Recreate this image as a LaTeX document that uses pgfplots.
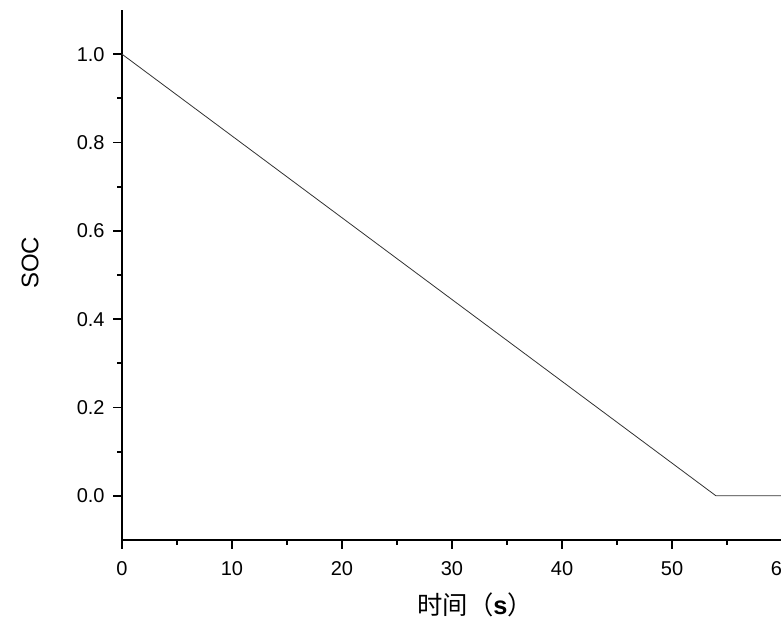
\documentclass[border=0pt]{standalone}
\usepackage{fontspec}
\setmainfont{Liberation Sans}
\newfontfamily\cjk{Noto Sans CJK SC}
\usepackage{pgfplots}
\pgfplotsset{compat=1.18}

\begin{document}
\begin{tikzpicture}
\begin{axis}[
  name=ax,
  scale only axis,
  width=495pt, height=397.5pt,
  xmin=0, xmax=60,
  ymin=-0.1, ymax=1.1,
  axis lines*=left,
  axis line style={line width=1.6pt},
  xtick={0,10,...,60},
  ytick={0,0.2,...,1.0},
  minor x tick num=1,
  minor y tick num=1,
  tick align=outside,
  major tick length=6.5pt,
  minor tick length=3.5pt,
  every tick/.style={black, line width=1.3pt},
  tick label style={font=\fontsize{15}{17}\selectfont},
  /pgf/number format/assume math mode=true,
  yticklabel style={/pgf/number format/fixed, /pgf/number format/fixed zerofill,
                    /pgf/number format/precision=1, xshift=-3pt},
  xticklabel style={/pgf/number format/fixed, yshift=-6pt},
  xlabel={{\cjk 时间（}\textbf{s}{\cjk ）}},
  xlabel style={at={(axis description cs:0.535,0)}, anchor=center,
                yshift=-48.75pt, font=\fontsize{19}{21}\selectfont},
  ylabel={SOC},
  ylabel style={at={([xshift=-69pt]axis description cs:0,0.523)}, anchor=center,
                font=\fontsize{18}{20}\selectfont},
  clip=false,
]
\addplot[black!80, line width=0.6pt] coordinates {(0,1.0) (54,0.0) (60,0.0)};
\end{axis}
\pgfresetboundingbox
\path[use as bounding box] ([xshift=-91.5pt,yshift=-58.5pt]ax.south west)
  rectangle ([xshift=-0.75pt,yshift=7.5pt]ax.north east);
\end{tikzpicture}
\end{document}
